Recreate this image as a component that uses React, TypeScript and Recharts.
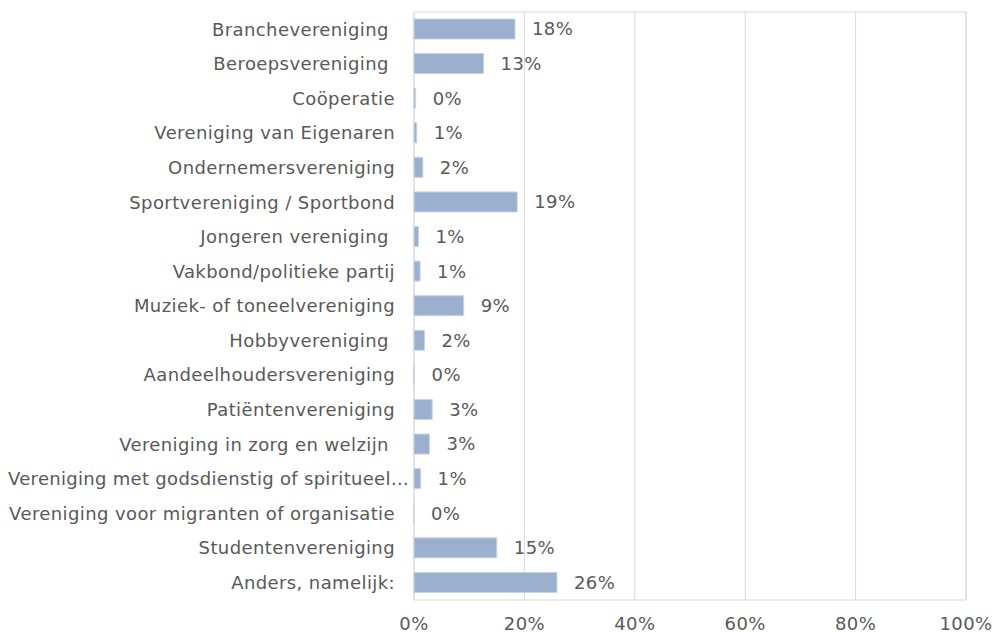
import { BarChart, Bar, XAxis, YAxis, CartesianGrid, ReferenceArea, LabelList } from "recharts";

const categories = [
  "Branchevereniging ",
  "Beroepsvereniging ",
  "Coöperatie",
  "Vereniging van Eigenaren",
  "Ondernemersvereniging",
  "Sportvereniging / Sportbond",
  "Jongeren vereniging ",
  "Vakbond/politieke partij",
  "Muziek- of toneelvereniging",
  "Hobbyvereniging ",
  "Aandeelhoudersvereniging",
  "Patiëntenvereniging",
  "Vereniging in zorg en welzijn ",
  "Vereniging met godsdienstig of spiritueel…",
  "Vereniging voor migranten of organisatie",
  "Studentenvereniging",
  "Anders, namelijk:",
];

const values = [18.3, 12.6, 0.3, 0.5, 1.6, 18.7, 0.8, 1.1, 9.0, 1.9, 0.1, 3.3, 2.8, 1.2, 0, 15.0, 25.9];

const xTicks = [0, 20, 40, 60, 80, 100];

const data = categories.map((name, i) => ({ name, value: values[i] }));

const FONT = "'DejaVu Sans', Verdana, sans-serif";
const TEXT = "#595959";
const GRID = "#d9d9d9";
const SPACING = 0.4;

function CategoryTick(props: any) {
  const { x, y, payload } = props;
  // truncated labels are left aligned like Excel does
  const truncated = String(payload.value).endsWith("…");
  return (
    <text
      x={truncated ? 8 : x}
      y={y}
      dy="0.35em"
      textAnchor={truncated ? "start" : "end"}
      fill={TEXT}
      fontSize={18}
      fontFamily={FONT}
      letterSpacing={truncated ? 0.3 : SPACING}
      style={{ whiteSpace: "pre" }}
    >
      {payload.value}
    </text>
  );
}

export default function App() {
  return (
    <div style={{ position: "absolute", left: 0, top: 0, background: "#fff" }}>
      <BarChart
        width={994}
        height={633}
        data={data}
        layout="vertical"
        margin={{ top: 12, right: 28, bottom: 3, left: 0 }}
        barCategoryGap={0}
      >
        <CartesianGrid horizontal={false} stroke={GRID} />
        <ReferenceArea x1={0} x2={100} stroke={GRID} fill="none" ifOverflow="visible" />
        <XAxis
          type="number"
          domain={[0, 100]}
          ticks={xTicks}
          tickFormatter={(v) => `${v}%`}
          axisLine={false}
          tickLine={false}
          tickMargin={11}
          height={30}
          tick={{ fill: TEXT, fontSize: 18, fontFamily: FONT, letterSpacing: SPACING }}
          interval={0}
        />
        <YAxis
          type="category"
          dataKey="name"
          width={414}
          axisLine={false}
          tickLine={false}
          tickMargin={13}
          interval={0}
          tick={<CategoryTick />}
        />
        <Bar
          dataKey="value"
          fill="#9bb0cf"
          stroke="#c7d3e5"
          strokeWidth={1}
          barSize={20}
          minPointSize={0.01}
          isAnimationActive={false}
        >
          <LabelList
            dataKey="value"
            position="right"
            offset={17}
            formatter={(v: any) => `${Math.round(Number(v))}%`}
            fill={TEXT}
            fontSize={18}
            fontFamily={FONT}
            letterSpacing={SPACING}
          />
        </Bar>
      </BarChart>
    </div>
  );
}
